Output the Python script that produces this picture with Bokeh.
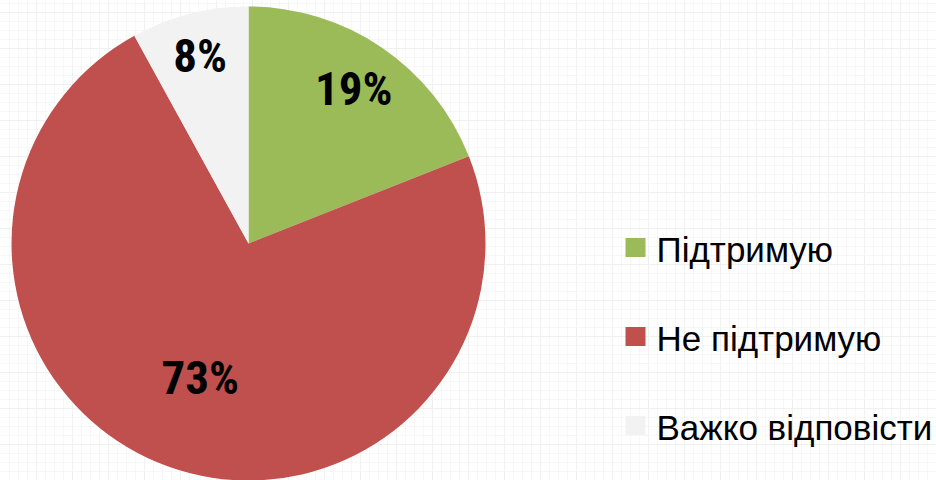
import math
from bokeh.plotting import figure
from bokeh.models import Grid, SingleIntervalTicker, ColumnDataSource
from bokeh.core.properties import value
from bokeh.embed import file_html
from bokeh.resources import INLINE

# ---- data ----
categories = ["Підтримую", "Не підтримую", "Важко відповісти"]
shares = [19, 73, 8]
labels = ["19%", "73%", "8%"]
colors = ["#9BBB59", "#C0504D", "#F2F2F2"]

W, H = 936, 480
p = figure(width=W, height=H, x_range=(0, W), y_range=(0, H),
           x_axis_type=None, y_axis_type=None, output_backend="svg",
           toolbar_location=None, min_border=0)
p.outline_line_color = None
p.background_fill_color = "#FFFFFF"
p.border_fill_color = "#FFFFFF"

# faint paper-like grid
for dim in (0, 1):
    g = Grid(dimension=dim, ticker=SingleIntervalTicker(interval=36),
             grid_line_color="#E6E6E6", grid_line_width=1, grid_line_alpha=0.7)
    p.renderers.append(g)
    g2 = Grid(dimension=dim, ticker=SingleIntervalTicker(interval=9),
              grid_line_color="#F2F2F2", grid_line_width=1, grid_line_alpha=0.6)
    p.renderers.append(g2)

# pie geometry (pixel coordinates of the frame)
cx, cy, R = 248, H - 243, 237
total = sum(shares)
starts, ends, mids = [], [], []
acc = 0.0
for s in shares:
    a0 = math.pi / 2 - 2 * math.pi * acc / total
    acc += s
    a1 = math.pi / 2 - 2 * math.pi * acc / total
    starts.append(a0)
    ends.append(a1)
    mids.append((a0 + a1) / 2)

src = ColumnDataSource(dict(start=starts, end=ends, color=colors, cat=categories))
p.wedge(x=cx, y=cy, radius=R, start_angle="start", end_angle="end",
        direction="clock", fill_color="color", line_color=None, source=src)

label_r = [0.79, 0.60, 0.82]
lx = [cx + R * f * math.cos(m) for f, m in zip(label_r, mids)]
ly = [cy + R * f * math.sin(m) for f, m in zip(label_r, mids)]
p.text(x=lx, y=ly, text=labels, text_align="center", text_baseline="middle",
       text_font=value("Roboto Condensed"), text_font_style="bold",
       text_font_size="47px", text_color="#000000")

# legend (manual)
leg_x = 625
leg_y0 = H - 247
leg_dy = 89
ys = [leg_y0 - i * leg_dy for i in range(len(categories))]
p.rect(x=[leg_x + 10] * 3, y=ys, width=20, height=19, fill_color=colors,
       line_color=None)
p.text(x=[leg_x + 31] * 3, y=[y - 2 for y in ys], text=categories,
       text_align="left", text_baseline="middle",
       text_font=value("Liberation Sans"), text_font_size="35px",
       text_color="#000000")

open("out.html", "w").write(file_html(p, INLINE))
